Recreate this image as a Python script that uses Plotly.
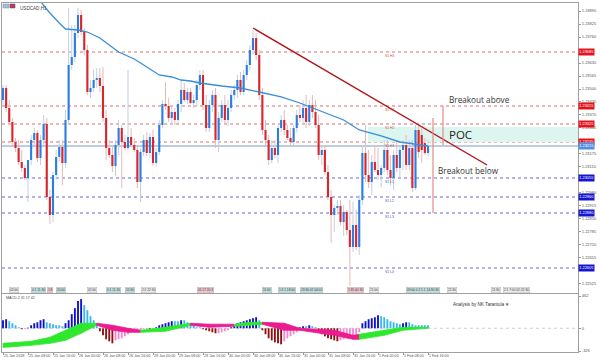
import plotly.graph_objects as go

# ---------------- data ----------------
date_tick_idx = [0, 8, 16, 24, 32, 40, 48, 56, 64, 72, 80, 88, 96, 104, 112, 120, 128, 136]
date_labels = ["25 Jan 2018", "25 Jan 08:00", "25 Jan 16:00", "26 Jan 00:00", "26 Jan 08:00",
               "26 Jan 16:00", "29 Jan 00:00", "29 Jan 08:00", "29 Jan 16:00", "30 Jan 00:00",
               "30 Jan 08:00", "30 Jan 16:00", "31 Jan 00:00", "31 Jan 08:00", "31 Jan 16:00",
               "1 Feb 00:00", "1 Feb 08:00", "1 Feb 16:00"]

price_ticks = [1.23890, 1.23825, 1.23760, 1.23695, 1.23630, 1.23565, 1.23500, 1.23435,
               1.23370, 1.23305, 1.23240, 1.23175, 1.23110, 1.23045, 1.22980, 1.22915,
               1.22850, 1.22785, 1.22720, 1.22655, 1.22590, 1.22525]

opens = [
    1.23445, 1.23505, 1.23405, 1.23335, 1.23235, 1.23205, 1.23135, 1.23105, 1.23055, 1.23145,
    1.23245, 1.23280, 1.23155, 1.23245, 1.23325, 1.22960, 1.22870, 1.23070, 1.23160, 1.23210,
    1.23130, 1.23345, 1.23620, 1.23660, 1.23780, 1.23870, 1.23785, 1.23695, 1.23485, 1.23505,
    1.23545, 1.23555, 1.23515, 1.23355, 1.23205, 1.23170, 1.23115, 1.23220, 1.23305, 1.23235,
    1.23205, 1.23260, 1.23220, 1.23195, 1.23035, 1.23185, 1.23245, 1.23180, 1.23260, 1.23130,
    1.23185, 1.23320, 1.23425, 1.23415, 1.23355, 1.23385, 1.23345, 1.23425, 1.23495, 1.23445,
    1.23485, 1.23430, 1.23445, 1.23520, 1.23570, 1.23420, 1.23305, 1.23420, 1.23470, 1.23245,
    1.23355, 1.23420, 1.23345, 1.23405, 1.23470, 1.23495, 1.23545, 1.23485, 1.23570, 1.23620,
    1.23695, 1.23755, 1.23670, 1.23470, 1.23295, 1.23245, 1.23145, 1.23205, 1.23170, 1.23305,
    1.23345, 1.23295, 1.23255, 1.23235, 1.23305, 1.23370, 1.23355, 1.23405, 1.23335, 1.23420,
    1.23385, 1.23320, 1.23170, 1.23195, 1.23085, 1.22960, 1.22870, 1.22905, 1.22915, 1.22835,
    1.22885, 1.22795, 1.22710, 1.22820, 1.22710, 1.22945, 1.23180, 1.23070, 1.23035, 1.23135,
    1.23095, 1.23070, 1.23105, 1.23195, 1.23095, 1.23055, 1.23170, 1.23105, 1.23195, 1.23220,
    1.23120, 1.23205, 1.23005, 1.23295, 1.23270, 1.23230, 1.23180]
highs = [
    1.23520, 1.23520, 1.23445, 1.23355, 1.23255, 1.23245, 1.23195, 1.23120, 1.23145, 1.23270,
    1.23305, 1.23295, 1.23270, 1.23370, 1.23355, 1.22995, 1.23085, 1.23195, 1.23245, 1.23245,
    1.23395, 1.23905, 1.23820, 1.23820, 1.23905, 1.23895, 1.23805, 1.23720, 1.23545, 1.23595,
    1.23605, 1.23605, 1.23610, 1.23395, 1.23245, 1.23220, 1.23245, 1.23345, 1.23320, 1.23270,
    1.23595, 1.23305, 1.23255, 1.23220, 1.23205, 1.23270, 1.23285, 1.23280, 1.23295, 1.23205,
    1.23345, 1.23445, 1.23535, 1.23455, 1.23420, 1.23405, 1.23445, 1.23545, 1.23530, 1.23505,
    1.23505, 1.23470, 1.23545, 1.23595, 1.23595, 1.23470, 1.23445, 1.23495, 1.23505, 1.23385,
    1.23445, 1.23470, 1.23445, 1.23495, 1.23520, 1.23570, 1.23585, 1.23595, 1.23645, 1.23720,
    1.23795, 1.23780, 1.23695, 1.23505, 1.23345, 1.23270, 1.23245, 1.23245, 1.23320, 1.23370,
    1.23395, 1.23320, 1.23305, 1.23320, 1.23395, 1.23420, 1.23445, 1.23470, 1.23445, 1.23470,
    1.23445, 1.23370, 1.23220, 1.23220, 1.23120, 1.22995, 1.22920, 1.22945, 1.22945, 1.22920,
    1.22895, 1.22945, 1.22935, 1.22895, 1.22970, 1.23220, 1.23320, 1.23195, 1.23170, 1.23220,
    1.23205, 1.23120, 1.23245, 1.23245, 1.23170, 1.23195, 1.23245, 1.23220, 1.23245, 1.23270,
    1.23245, 1.23245, 1.23320, 1.23320, 1.23305, 1.23255, 1.23245]
lows = [
    1.23420, 1.23385, 1.23325, 1.23220, 1.23185, 1.23120, 1.23085, 1.23045, 1.22935, 1.23120,
    1.23220, 1.23135, 1.23120, 1.23220, 1.22945, 1.22825, 1.22835, 1.23045, 1.23135, 1.23020,
    1.23105, 1.23320, 1.23595, 1.23635, 1.23755, 1.23770, 1.23670, 1.23470, 1.23455, 1.23485,
    1.23505, 1.23485, 1.23335, 1.23145, 1.23155, 1.23085, 1.23065, 1.23170, 1.23005, 1.23195,
    1.23195, 1.23210, 1.23185, 1.23005, 1.22935, 1.23165, 1.23165, 1.23155, 1.23115, 1.23115,
    1.23170, 1.23305, 1.23395, 1.23335, 1.23325, 1.23320, 1.23330, 1.23385, 1.23435, 1.23425,
    1.23425, 1.23405, 1.23415, 1.23495, 1.23395, 1.23285, 1.23285, 1.23385, 1.23205, 1.23185,
    1.23335, 1.23320, 1.23315, 1.23385, 1.23445, 1.23455, 1.23470, 1.23470, 1.23545, 1.23595,
    1.23670, 1.23645, 1.23445, 1.23270, 1.23220, 1.23120, 1.23130, 1.23155, 1.23130, 1.23285,
    1.23270, 1.23245, 1.23220, 1.23220, 1.23285, 1.23335, 1.23320, 1.23305, 1.23315, 1.23355,
    1.23305, 1.23145, 1.23120, 1.23070, 1.22945, 1.22730, 1.22785, 1.22870, 1.22820, 1.22765,
    1.22770, 1.22515, 1.22685, 1.22695, 1.22670, 1.22920, 1.23035, 1.23005, 1.22970, 1.23085,
    1.23045, 1.23010, 1.23085, 1.23070, 1.23020, 1.22995, 1.23085, 1.23055, 1.23095, 1.23095,
    1.23095, 1.22985, 1.22995, 1.23155, 1.23130, 1.23170, 1.23165]
closes = [
    1.23505, 1.23405, 1.23335, 1.23235, 1.23205, 1.23135, 1.23105, 1.23055, 1.23145, 1.23245,
    1.23280, 1.23155, 1.23245, 1.23325, 1.22960, 1.22870, 1.23070, 1.23160, 1.23210, 1.23130,
    1.23345, 1.23620, 1.23660, 1.23780, 1.23870, 1.23785, 1.23695, 1.23485, 1.23505, 1.23545,
    1.23555, 1.23515, 1.23355, 1.23205, 1.23170, 1.23115, 1.23220, 1.23305, 1.23235, 1.23205,
    1.23260, 1.23220, 1.23195, 1.23035, 1.23185, 1.23245, 1.23180, 1.23260, 1.23130, 1.23185,
    1.23320, 1.23425, 1.23415, 1.23355, 1.23385, 1.23345, 1.23425, 1.23495, 1.23445, 1.23485,
    1.23430, 1.23445, 1.23520, 1.23570, 1.23420, 1.23305, 1.23420, 1.23470, 1.23245, 1.23355,
    1.23420, 1.23345, 1.23405, 1.23470, 1.23495, 1.23545, 1.23485, 1.23570, 1.23620, 1.23695,
    1.23755, 1.23670, 1.23470, 1.23295, 1.23245, 1.23145, 1.23205, 1.23170, 1.23305, 1.23345,
    1.23295, 1.23255, 1.23235, 1.23305, 1.23370, 1.23355, 1.23405, 1.23335, 1.23420, 1.23385,
    1.23320, 1.23170, 1.23195, 1.23085, 1.22960, 1.22870, 1.22905, 1.22915, 1.22835, 1.22885,
    1.22795, 1.22710, 1.22820, 1.22710, 1.22945, 1.23180, 1.23070, 1.23035, 1.23135, 1.23095,
    1.23070, 1.23105, 1.23195, 1.23095, 1.23055, 1.23170, 1.23105, 1.23195, 1.23220, 1.23120,
    1.23205, 1.23005, 1.23295, 1.23185, 1.23195, 1.23180, 1.23215]

# moving average, read at a few candles
ma_idx = [8, 12, 15, 18, 20, 24, 27, 31, 34, 37, 42, 46, 50, 54, 57, 60, 63, 70, 76, 82,
          89, 95, 101, 109, 114, 121, 127, 136]
ma_val = [1.24015, 1.23940, 1.23880, 1.23830, 1.23800, 1.23795, 1.23785, 1.23755, 1.23720,
          1.23685, 1.23650, 1.23610, 1.23570, 1.23560, 1.23545, 1.23540, 1.23530, 1.23515,
          1.23505, 1.23485, 1.23460, 1.23430, 1.23395, 1.23345, 1.23295, 1.23265, 1.23235,
          1.23215]

levels_red = [1.23685, 1.23415, 1.23325, 1.23235]
levels_red_names = ["S1 H4", "S1 H3", "S1 H2", "S1 H1"]
levels_blue = [1.23055, 1.22960, 1.22880, 1.22605]
levels_blue_names = ["S1 L1", "S1 L2", "S1 L3", "S1 L4"]
bid_price = 1.23215

trend_x = [80, 154.9]
trend_y = [1.23805, 1.23120]
poc_x = [116.8, 184]
poc_y = [1.23235, 1.23310]
breakout_below_x = [137.6, 137.6]
breakout_below_y = [1.23355, 1.22880]
breakout_above_x = [140.8, 140.8]
breakout_above_y = [1.23415, 1.23220]

macd_hist = [
    115, 130, 101, 72, 43, 14, -14, -14, 7,
    43, 72, 86, 115, 130, 86, 72, 58, 43, 43, 29,
    72, 115, 202, 288, 389, 418, 331, 259, 173, 115, 58,
    -43, -101, -158, -187, -216, -173, -158, -144, -115, -86, -58, -43, -43, -29, -14, -14, -29, -14,
    14, 43, 58, 72, 86, 101, 101, 101, 115, 115, 86, 72, 43, 14, 14,
    -14, -29, -43, -58, -72, -72, -58, -43, -29,
    14, 43, 72, 86, 101, 115, 130, 144, 158, 115,
    -29, -86, -144, -173, -202, -216, -230, -187, -144, -115, -86, -58,
    14, 29, 29, 43, 29, 14,
    -43, -86, -115, -144, -158, -173, -187, -173, -158, -144, -130, -115, -86, -58,
    72, 101, 130, 144, 158, 187, 173, 158, 130, 101, 86, 72, 58, 72, 86, 86, 58, 43, 43, 43, 43, 43]

band_idx = [0, 9, 15, 20, 25, 30, 35, 40, 44, 52, 60, 66, 74, 79, 83, 90, 95, 106, 112, 114, 122, 128, 136]
band_upper = [-216, -187, -130, -29, 72, 72, 43, 0, -29, 14, 72, 58, 58, 86, 86, 72, 0, -29, -101, -86, -29, 14, 14]
band_lower = [-274, -245, -216, -173, -72, 43, -29, -58, -58, -43, 43, 14, 29, 43, 58, -29, -29, -101, -158, -158, -101, -29, 0]
band_state = ["up", "up", "up", "up", "up", "dn", "dn", "dn", "up", "up", "dn", "dn", "up", "up",
              "dn", "dn", "dn", "dn", "dn", "up", "up", "up"]

macd_ticks = [462, 0, -326]

time_boxes = [(2, "02:00", "#ececec"), (9, "0:1 11:30", "#bfe0e0"), (14, "1:8", "#f2c4cc"),
              (17, "20:00", "#bfe0e0"), (27, "02:00", "#ececec"), (33, "0:1 11:30", "#bfe0e0"),
              (39, "15:30", "#bfe0e0"), (44, "2:2 22:30", "#ececec"), (62, "05 17:20:3", "#f2c4cc"),
              (83, "11:00", "#bfe0e0"), (88, "1:3 1 18:00", "#bfe0e0"), (95, "23:30:02 04:00", "#bfe0e0"),
              (110, "1:35:00 30", "#f2c4cc"), (117, "21:00", "#ececec"), (129, "09:00 0:2 1:1 14:30:30", "#bfe0e0"),
              (142, "22:30", "#ececec"), (156, "11:30", "#ececec"), (160, "2:1 7:00 02:22:30", "#ececec")]

# ---------------- styling ----------------
BLUE, RED = "#2b7de3", "#d8262c"
LBLUE, LRED = "#bfd0e2", "#e9b8b8"
X_RANGE = [-0.32, 184]
TINY = "Liberation Sans"

# price-axis labels hidden under the coloured price boxes (as in the terminal)
box_prices = levels_red + levels_blue + [bid_price]
shown_ticks = [t for t in price_ticks if min(abs(t - b) for b in box_prices) > 0.000165]
shown_labels = ["%.5f" % t for t in shown_ticks]

n = len(closes)
idx = list(range(n))
up = [c >= o for o, c in zip(opens, closes)]

fig = go.Figure()
fig.add_trace(go.Bar(x=idx, y=[h - l for h, l in zip(highs, lows)], base=lows, width=0.32,
                     marker=dict(color=[LBLUE if u else LRED for u in up], line=dict(width=0)),
                     xaxis="x", yaxis="y", hoverinfo="skip"))
fig.add_trace(go.Bar(x=idx, y=[abs(c - o) for o, c in zip(opens, closes)],
                     base=[min(o, c) for o, c in zip(opens, closes)], width=0.68,
                     marker=dict(color=[BLUE if u else RED for u in up], line=dict(width=0)),
                     xaxis="x", yaxis="y"))
fig.add_trace(go.Scatter(x=ma_idx, y=ma_val, mode="lines", line=dict(color="#3a8ed8", width=1.3),
                         xaxis="x", yaxis="y"))
fig.add_trace(go.Scatter(x=trend_x, y=trend_y, mode="lines", line=dict(color="#b3121b", width=1.4),
                         xaxis="x", yaxis="y"))
for bx, by in [(breakout_below_x, breakout_below_y), (breakout_above_x, breakout_above_y)]:
    fig.add_trace(go.Scatter(x=bx, y=by, mode="lines", line=dict(color="#e58a8a", width=1.2),
                             xaxis="x", yaxis="y"))

hist_col = []
prev = None
for v in macd_hist:
    if v >= 0:
        hist_col.append("#1010c8" if (prev is None or v > prev) else "#38b8ee")
    else:
        hist_col.append("#8e1010" if (prev is None or v < prev) else "#f08ad2")
    prev = v
fig.add_trace(go.Bar(x=idx, y=macd_hist, width=0.6, marker=dict(color=hist_col, line=dict(width=0)),
                     xaxis="x2", yaxis="y2"))
for k in range(len(band_idx) - 1):
    col = "#2ee82e" if band_state[k] == "up" else "#ec1b8e"
    fig.add_trace(go.Scatter(
        x=[band_idx[k], band_idx[k + 1], band_idx[k + 1], band_idx[k], band_idx[k]],
        y=[band_upper[k], band_upper[k + 1], band_lower[k + 1], band_lower[k], band_upper[k]],
        mode="lines", fill="toself", fillcolor=col, line=dict(color=col, width=0.8),
        xaxis="x2", yaxis="y2"))

shapes = []
shapes.append(dict(type="rect", xref="x", yref="y", x0=poc_x[0], x1=poc_x[1], y0=poc_y[0], y1=poc_y[1],
                   fillcolor="#dcf5ee", line=dict(width=0), layer="below"))
shapes.append(dict(type="line", xref="paper", yref="y", x0=0, x1=1, y0=bid_price, y1=bid_price,
                   line=dict(color="#bccde2", width=2), layer="below"))
for lv in levels_red:
    shapes.append(dict(type="line", xref="paper", yref="y", x0=0, x1=1, y0=lv, y1=lv,
                       line=dict(color="#d9706f", width=1, dash="dot"), layer="below"))
for lv in levels_blue:
    shapes.append(dict(type="line", xref="paper", yref="y", x0=0, x1=1, y0=lv, y1=lv,
                       line=dict(color="#6a6ad0", width=1, dash="dot"), layer="below"))
shapes.append(dict(type="line", xref="paper", yref="y2", x0=0, x1=1, y0=0, y1=0,
                   line=dict(color="#d0d0d0", width=1, dash="dot"), layer="below"))
shapes.append(dict(type="rect", xref="paper", yref="paper", x0=0.0017, x1=0.0122, y0=0.9857, y1=0.9971,
                   fillcolor="#a9bcd6", line=dict(color="#8090a8", width=0.5)))
shapes.append(dict(type="rect", xref="paper", yref="paper", x0=0.0139, x1=0.0226, y0=0.9857, y1=0.9971,
                   fillcolor="#d03838", line=dict(color="#3050b0", width=0.5)))

ann = []
ann.append(dict(text="USDCAD,H1", xref="paper", yref="paper", x=0.0278, y=0.9985, xanchor="left",
                yanchor="top", showarrow=False, font=dict(family=TINY, size=4.6, color="#444")))
ann.append(dict(text="Breakout above", xref="x", yref="y", x=142.1, y=1.23445, xanchor="left",
                yanchor="middle", showarrow=False, font=dict(family="Open Sans", size=8.2, color="#333")))
ann.append(dict(text="Breakout below", xref="x", yref="y", x=138.6, y=1.23090, xanchor="left",
                yanchor="middle", showarrow=False, font=dict(family="Open Sans", size=8.2, color="#333")))
ann.append(dict(text="POC", xref="x", yref="y", x=142.0, y=1.23273, xanchor="left",
                yanchor="middle", showarrow=False, font=dict(family="Open Sans", size=11.5, color="#222")))
for lv, nm in zip(levels_red, levels_red_names):
    ann.append(dict(text=nm, xref="x", yref="y", x=121.6, y=lv, xanchor="left", yanchor="top",
                    showarrow=False, font=dict(family=TINY, size=3.4, color="#c05050")))
for lv, nm in zip(levels_blue, levels_blue_names):
    ann.append(dict(text=nm, xref="x", yref="y", x=121.6, y=lv, xanchor="left", yanchor="top",
                    showarrow=False, font=dict(family=TINY, size=3.4, color="#5050b0")))
for lv in levels_red:
    ann.append(dict(text="%.5f" % lv, xref="paper", yref="y", x=1, y=lv, xanchor="left", yanchor="middle",
                    showarrow=False, bgcolor="#e5141c", borderpad=0.3,
                    font=dict(family=TINY, size=3.9, color="white")))
for lv in levels_blue:
    ann.append(dict(text="%.5f" % lv, xref="paper", yref="y", x=1, y=lv, xanchor="left", yanchor="middle",
                    showarrow=False, bgcolor="#1616d0", borderpad=0.3,
                    font=dict(family=TINY, size=3.9, color="white")))
ann.append(dict(text="%.5f" % bid_price, xref="paper", yref="y", x=1, y=bid_price, xanchor="left",
                yanchor="middle", showarrow=False, bgcolor="#4f8fe3", borderpad=0.3,
                font=dict(family=TINY, size=3.9, color="white")))
ann.append(dict(text="MACD-2 31 17 42", xref="paper", yref="paper", x=0.004, y=0.155, xanchor="left",
                yanchor="middle", showarrow=False, font=dict(family=TINY, size=3.6, color="#444")))
ann.append(dict(text="Analysis by NK Tarantula ✭", xref="paper", yref="paper", x=0.7795, y=0.1375,
                xanchor="left", yanchor="middle", showarrow=False,
                font=dict(family=TINY, size=4.6, color="#333")))
for bi, bt, bc in time_boxes:
    ann.append(dict(text=bt, xref="x", yref="paper", x=bi, y=0.179, xanchor="left", yanchor="middle",
                    showarrow=False, bgcolor=bc, borderpad=0.4, bordercolor="#b8b8b8", borderwidth=0.5,
                    font=dict(family=TINY, size=3.2, color="#333")))

axis_line = dict(showline=True, mirror=True, linecolor="#a0a0a0", linewidth=1, showgrid=False,
                 zeroline=False, automargin=False)
fig.update_layout(
    width=600, height=362, margin=dict(l=2, r=22, t=3, b=10, autoexpand=False),
    paper_bgcolor="white", plot_bgcolor="white", showlegend=False, barmode="overlay",
    xaxis=dict(domain=[0, 1], range=X_RANGE, anchor="y", showticklabels=False, ticks="", **axis_line),
    yaxis=dict(domain=[0.1691, 1], range=[1.2248, 1.2393], anchor="x", side="right",
               tickvals=shown_ticks, ticktext=shown_labels, ticks="outside", ticklen=2,
               tickcolor="#999", tickfont=dict(family=TINY, size=4.0, color="#555"), **axis_line),
    xaxis2=dict(domain=[0, 1], range=X_RANGE, anchor="y2", tickvals=date_tick_idx, ticktext=date_labels,
                tickangle=0, ticklabelposition="outside right", ticks="outside", ticklen=2,
                tickcolor="#999", tickfont=dict(family=TINY, size=3.7, color="#555"), **axis_line),
    yaxis2=dict(domain=[0, 0.1662], range=[-340, 491], anchor="x2", side="right",
                tickvals=macd_ticks, ticktext=[str(v) for v in macd_ticks], ticks="outside", ticklen=2,
                tickcolor="#999", tickfont=dict(family=TINY, size=4.0, color="#555"), **axis_line),
    shapes=shapes, annotations=ann,
)

fig.write_html("out.html", config={"displayModeBar": False, "staticPlot": True},
               post_script="document.body.style.margin='0';document.body.style.padding='0';"
                           "document.body.style.overflow='hidden';")
